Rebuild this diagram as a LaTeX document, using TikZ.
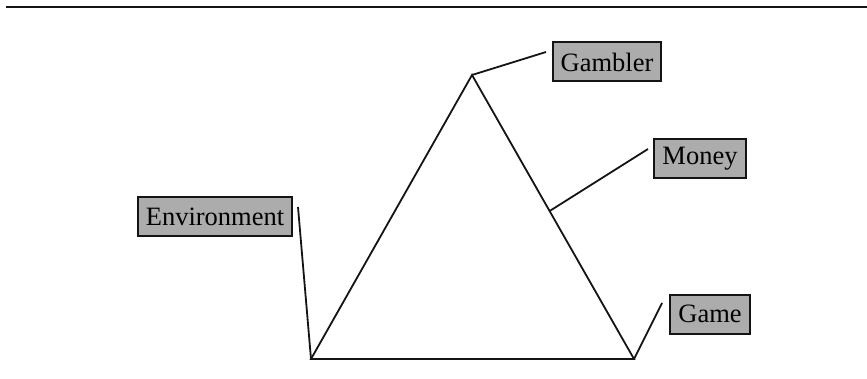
\documentclass[tikz,border=0pt]{standalone}
\usepackage{fontspec}
\setmainfont{Liberation Serif}
\usepackage{tikz}
\usetikzlibrary{positioning, calc}
\definecolor{stipplegray}{RGB}{172, 172, 172}
\definecolor{inkblack}{RGB}{20, 20, 20}
\tikzset{
    lblbox/.style = {draw=inkblack, line width=2pt, fill=stipplegray, inner xsep=8pt, inner ysep=0pt, minimum height=39pt, font=\fontsize{26.5}{31}\selectfont},
    edge/.style = {draw=inkblack, line width=1.8pt, line join=miter}
}
\begin{document}
\begin{tikzpicture}[x=1pt, y=-1pt]
    \useasboundingbox (0,0) rectangle (867,379);

    % Top rule
    \coordinate (ruleL) at (6,7);
    \coordinate (ruleR) at (867,7);
    \draw[edge, line width=2.6pt] (ruleL) -- (ruleR);

    % Triangle corners
    \coordinate (apex) at (472,75);
    \coordinate (bl) at (311,359);
    \coordinate (br) at (634,359);
    \draw[edge] (apex) -- (br) -- (bl) -- cycle;

    % Labels
    \node[lblbox] (gambler) at (607,62) {Gambler};
    \node[lblbox] (money) at (700,159) {Money};
    \node[lblbox] (env) at (215,217) {Environment};
    \node[lblbox] (game) at (710,314) {Game};

    % Leader lines
    \coordinate (gamblerEnd) at (546,52);
    \coordinate (moneyFoot) at ($(apex)!0.479!(br)$);
    \coordinate (moneyEnd) at (648,149);
    \coordinate (envEnd) at (298,207);
    \coordinate (gameEnd) at (662,303);
    \draw[edge] (apex) -- (gamblerEnd);
    \draw[edge] (moneyFoot) -- (moneyEnd);
    \draw[edge] (bl) -- (envEnd);
    \draw[edge] (br) -- (gameEnd);
\end{tikzpicture}
\end{document}
